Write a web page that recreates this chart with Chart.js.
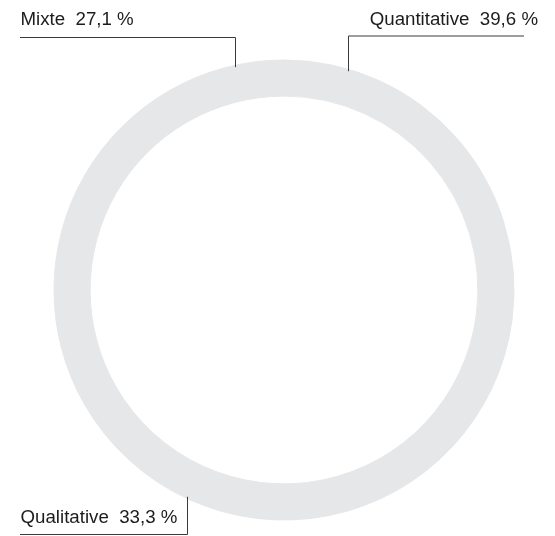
<!DOCTYPE html>
<html lang="fr">
<head>
<meta charset="utf-8">
<title>Répartition des méthodes</title>
<script src="https://cdn.jsdelivr.net/npm/chart.js@4.4.1/dist/chart.umd.min.js"></script>
<style>
    html, body { margin: 0; padding: 0; background: #fff; }
    #wrap { width: 555px; height: 536px; position: relative; }
</style>
</head>
<body>
<div id="wrap"><canvas id="graficaMethodes"></canvas></div>
<script>
// --- DONNÉES ---
const categories = ['Mixte', 'Quantitative', 'Qualitative'];
const valeurs = [27.1, 39.6, 33.3];

// position des étiquettes (x du trait vertical, côté du texte)
const etiquettes = [
    { ligneX: 235.5, ligneY: 37.5, debutX: 20, texteY: 25, cote: 'haut', align: 'left', texteX: 20.5 },
    { ligneX: 348.5, ligneY: 36, finX: 524, texteY: 25, cote: 'haut', align: 'right', texteX: 538 },
    { ligneX: 187.5, ligneY: 534.5, debutX: 20, texteY: 523, cote: 'bas', align: 'left', texteX: 20.5 }
];

function formatPct(v) {
    return v.toFixed(1).replace('.', ',') + ' %';
}

// Plugin: étiquettes avec traits de rappel
const pluginEtiquettes = {
    id: 'etiquettes',
    afterDraw(chart) {
        const arc = chart.getDatasetMeta(0).data[0];
        if (!arc) return;
        const cx = arc.x, cy = arc.y, R = arc.outerRadius;
        const ctx = chart.ctx;
        ctx.save();
        ctx.font = '18.7px "Liberation Sans", Arial, sans-serif';
        ctx.fillStyle = '#1e1b1c';
        ctx.strokeStyle = '#3a3a3a';
        ctx.lineWidth = 1;
        ctx.textBaseline = 'alphabetic';

        etiquettes.forEach((e, i) => {
            const dx = e.ligneX - cx;
            const h = Math.sqrt(Math.max(R * R - dx * dx, 0));
            const yRing = e.cote === 'haut' ? cy - h : cy + h;
            const x0 = e.debutX !== undefined ? e.debutX : e.ligneX;
            const x1 = e.finX !== undefined ? e.finX : e.ligneX;

            ctx.beginPath();
            ctx.moveTo(x0, e.ligneY);
            ctx.lineTo(x1, e.ligneY);
            ctx.moveTo(e.ligneX, e.ligneY);
            ctx.lineTo(e.ligneX, yRing + (e.cote === 'haut' ? 2 : -2));
            ctx.stroke();

            ctx.textAlign = e.align;
            ctx.fillText(categories[i] + '  ' + formatPct(valeurs[i]), e.texteX, e.texteY);
        });
        ctx.restore();
    }
};

const ctx = document.getElementById('graficaMethodes');
new Chart(ctx, {
    type: 'doughnut',
    data: {
        labels: categories,
        datasets: [{
            data: valeurs,
            backgroundColor: '#e6e7e8',
            borderColor: '#e6e7e8',
            borderWidth: 1,
            hoverOffset: 0
        }]
    },
    options: {
        responsive: true,
        maintainAspectRatio: false,
        animation: false,
        cutout: '84.3%',
        layout: { padding: { left: 53.5, right: 40.5, top: 59.5, bottom: 15.5 } },
        plugins: {
            legend: { display: false },
            tooltip: { enabled: false }
        }
    },
    plugins: [pluginEtiquettes]
});
</script>
</body>
</html>
